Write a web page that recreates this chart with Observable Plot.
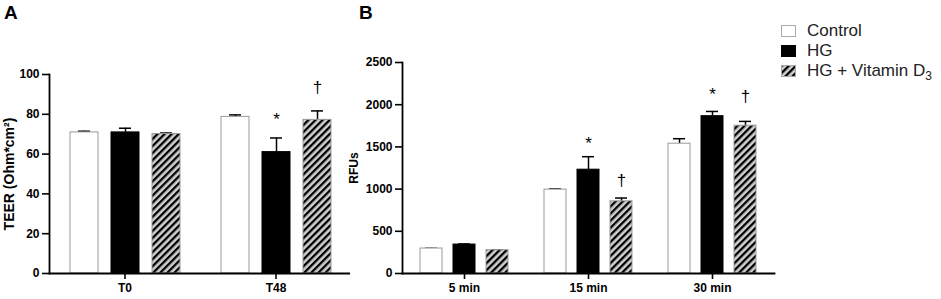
<!DOCTYPE html>
<html>
<head>
<meta charset="utf-8">
<script src="https://cdn.jsdelivr.net/npm/d3@7"></script>
<script src="https://cdn.jsdelivr.net/npm/@observablehq/plot@0.6"></script>
<style>
  html, body { margin: 0; padding: 0; background: #fff; }
  body { width: 941px; height: 299px; position: relative; overflow: hidden; font-family: "Liberation Sans", Arial, sans-serif; color: #000; }
  .panel { position: absolute; top: 0; }
  .plabel { position: absolute; font-weight: bold; font-size: 19px; line-height: 1; z-index: 5; }
  #legend { position: absolute; left: 781px; top: 21px; font-size: 17px; color: #222; z-index: 5; }
  #legend .row { display: flex; align-items: center; height: 20px; white-space: nowrap; }
  #legend svg { margin-right: 11px; }
  #legend sub { font-size: 12px; vertical-align: -4px; line-height: 0; }
</style>
</head>
<body>
<svg width="0" height="0" style="position:absolute">
  <defs>
    <pattern id="hatch" patternUnits="userSpaceOnUse" width="5" height="5" patternTransform="rotate(45)">
      <rect width="5" height="5" fill="#cfcfcf"></rect>
      <rect width="2.3" height="5" fill="#000"></rect>
    </pattern>
  </defs>
</svg>
<div id="panelA" class="panel" style="left:0px"></div>
<div id="panelB" class="panel" style="left:350px"></div>
<div class="plabel" style="left:4px;top:3px">A</div>
<div class="plabel" style="left:359px;top:3px">B</div>
<div id="legend"></div>
<script>
// ---- data ----
const seriesNames = ["Control", "HG", "HG + Vitamin D3"];

const teerGroups = ["T0", "T48"];
const teerT0Mean = [70.9, 70.9, 70.1];
const teerT0Upper = [71.5, 73.0, 70.6];
const teerT48Mean = [78.7, 61.0, 77.2];
const teerT48Upper = [79.7, 68.1, 81.7];
const teerMarks = [
  {group: "T48", series: "HG", y: 77.5, label: "*"},
  {group: "T48", series: "HG + Vitamin D3", y: 93.5, label: "†"}
];

const rfuGroups = ["5 min", "15 min", "30 min"];
const rfu5Mean = [296, 343, 276];
const rfu5Upper = [298, 350, 278];
const rfu15Mean = [994, 1230, 855];
const rfu15Upper = [1002, 1384, 894];
const rfu30Mean = [1538, 1864, 1751];
const rfu30Upper = [1597, 1920, 1802];
const rfuMarks = [
  {group: "15 min", series: "HG", y: 1540, label: "*"},
  {group: "15 min", series: "HG + Vitamin D3", y: 1105, label: "†"},
  {group: "30 min", series: "HG", y: 2125, label: "*"},
  {group: "30 min", series: "HG + Vitamin D3", y: 2100, label: "†"}
];

// ---- build rows ----
function rows(groups, means, uppers) {
  const out = [];
  groups.forEach((g, gi) => seriesNames.forEach((s, si) => out.push({group: g, series: s, mean: means[gi][si], upper: uppers[gi][si]})));
  return out;
}
const teerRows = rows(teerGroups, [teerT0Mean, teerT48Mean], [teerT0Upper, teerT48Upper]);
const rfuRows = rows(rfuGroups, [rfu5Mean, rfu15Mean, rfu30Mean], [rfu5Upper, rfu15Upper, rfu30Upper]);

const styles = {
  "Control": {fill: "white", stroke: "#999"},
  "HG": {fill: "black", stroke: "black"},
  "HG + Vitamin D3": {fill: "url(#hatch)", stroke: "#999"}
};

const font = "'Liberation Sans', Arial, sans-serif";

function panel({data, groups, marks, yDomain, yTicks, yLabel, width, marginLeft, marginTop, capInset, xPadOuter, fxPadOuter, labelOffset}) {
  const barMarks = seriesNames.map(s => Plot.barY(data.filter(d => d.series === s), {
    fx: "group", x: "series", y: "mean", fill: styles[s].fill, stroke: styles[s].stroke, strokeWidth: 1
  }));
  return Plot.plot({
    width, height: 299,
    marginLeft, marginRight: 6, marginTop, marginBottom: 26,
    style: {fontFamily: font, overflow: "visible", background: "white", color: "black"},
    fx: {domain: groups, paddingInner: 0, paddingOuter: fxPadOuter, label: null},
    x: {domain: seriesNames, paddingInner: 0.325, paddingOuter: xPadOuter, axis: null},
    y: {domain: yDomain, ticks: yTicks},
    marks: [
      Plot.ruleX(data, {fx: "group", x: "series", y1: "mean", y2: "upper", stroke: "black", strokeWidth: 1.5}),
      Plot.tickY(data, {fx: "group", x: "series", y: "upper", stroke: "black", strokeWidth: 1.5, insetLeft: capInset, insetRight: capInset}),
      ...barMarks,
      Plot.text(marks, {fx: "group", x: "series", y: "y", text: "label", fontSize: 17, fill: "black", lineAnchor: "middle"}),
      Plot.axisY({ticks: yTicks, tickFormat: d3.format("d"), tickSize: 7, tickPadding: 3, fontSize: 12, fontWeight: "bold", strokeWidth: 1.6,
        label: yLabel, labelAnchor: "center", labelArrow: "none", labelOffset}),
      Plot.axisFx({anchor: "bottom", label: null, tickSize: 6, tickPadding: 4, fontSize: 12, fontWeight: "bold", strokeWidth: 1.6}),
      Plot.frame({anchor: "left", facet: "super", stroke: "black", strokeWidth: 1.8}),
      Plot.frame({anchor: "bottom", facet: "super", stroke: "black", strokeWidth: 1.8})
    ]
  });
}

const a = panel({data: teerRows, groups: teerGroups, marks: teerMarks, yDomain: [0, 100], yTicks: [0, 20, 40, 60, 80, 100],
  yLabel: "TEER (Ohm*cm²)", width: 350, marginLeft: 56, marginTop: 74, capInset: 8, xPadOuter: 0.485, fxPadOuter: -0.048, labelOffset: 45});
document.getElementById("panelA").appendChild(a);

const b = panel({data: rfuRows, groups: rfuGroups, marks: rfuMarks, yDomain: [0, 2500], yTicks: [0, 500, 1000, 1500, 2000, 2500],
  yLabel: "RFUs", width: 424, marginLeft: 57, marginTop: 62, capInset: 5, xPadOuter: 0.49, fxPadOuter: -0.047, labelOffset: 53});
document.getElementById("panelB").appendChild(b);

// text weights and axis label sizes
for (const svg of [a, b]) {
  d3.select(svg).selectAll("text").attr("font-weight", "bold");
  d3.select(svg).selectAll("g[aria-label='text'], g[aria-label='text'] text").attr("font-weight", "normal");
}
d3.select(a).selectAll("g[aria-label='y-axis label'], g[aria-label='y-axis label'] text").attr("font-size", 14);
d3.select(b).selectAll("g[aria-label='y-axis label'], g[aria-label='y-axis label'] text").attr("font-size", 12);

// ---- legend ----
const legend = d3.select("#legend");
seriesNames.forEach(s => {
  const row = legend.append("div").attr("class", "row");
  const sw = row.append("svg").attr("width", 15).attr("height", 12);
  sw.append("rect").attr("x", 0.5).attr("y", 0.5).attr("width", 14).attr("height", 11)
    .attr("fill", styles[s].fill).attr("stroke", s === "HG" ? "black" : "#aaa");
  const label = row.append("span");
  if (s === "HG + Vitamin D3") label.html("HG + Vitamin D<sub>3</sub>");
  else label.text(s);
});
</script>
</body>
</html>
